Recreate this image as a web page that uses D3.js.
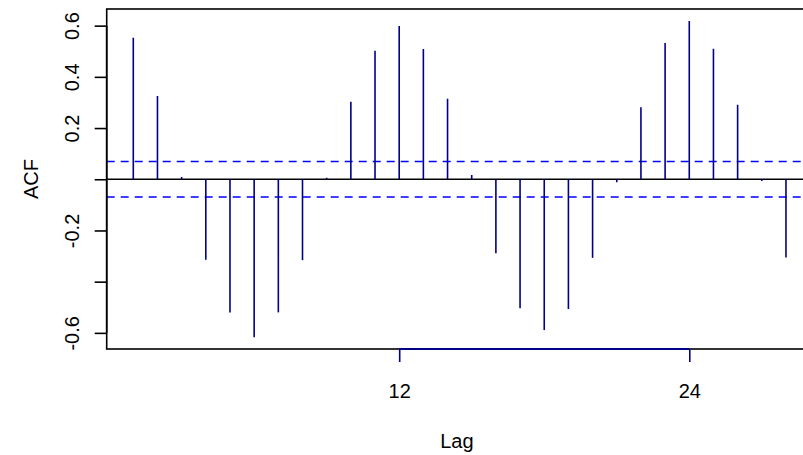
<!DOCTYPE html>
<html>
<head>
<meta charset="utf-8">
<script src="https://cdn.jsdelivr.net/npm/d3@7"></script>
<style>
  body { margin: 0; background: #fff; }
  svg { display: block; font-family: "Liberation Sans", Arial, Helvetica, sans-serif; }
</style>
</head>
<body>
<div id="chart"></div>
<script>
// ACF values, lags 1..28
const lags = d3.range(1, 29);
const acfValues = [
    0.553, 0.325, 0.009, -0.314, -0.520, -0.617, -0.520, -0.316, 0.006, 0.303,
    0.502, 0.599, 0.509, 0.314, 0.017, -0.289, -0.504, -0.589, -0.507, -0.307,
    -0.012, 0.281, 0.532, 0.618, 0.510, 0.291, -0.007, -0.306
];
const confLimit = 0.069;
const xTicks = [12, 24];
const yTicks = [-0.6, -0.4, -0.2, 0, 0.2, 0.4, 0.6];
const yTickLabels = { "-0.6": "-0.6", "-0.2": "-0.2", "0.2": "0.2", "0.4": "0.4", "0.6": "0.6" };

const width = 803, height = 455;
const plot = { left: 106.7, right: 807, top: 9, bottom: 349 };

const svg = d3.select('#chart').append('svg')
    .attr('width', width)
    .attr('height', height);

const x = d3.scaleLinear().domain([-0.1, 28.87]).range([plot.left, plot.right]);
const y = d3.scaleLinear().domain([-0.663, 0.665]).range([plot.bottom, plot.top]);

// clip for lines drawn across the plot region
svg.append('clipPath').attr('id', 'plotClip')
    .append('rect')
    .attr('x', plot.left).attr('y', plot.top)
    .attr('width', plot.right - plot.left).attr('height', plot.bottom - plot.top);

const inner = svg.append('g').attr('clip-path', 'url(#plotClip)');

// zero line
inner.append('line')
    .attr('x1', plot.left).attr('x2', plot.right)
    .attr('y1', y(0)).attr('y2', y(0))
    .attr('stroke', '#000').attr('stroke-width', 1.3);

// confidence bounds
inner.selectAll('line.ci')
    .data([confLimit, -confLimit])
    .enter().append('line')
    .attr('class', 'ci')
    .attr('x1', plot.left).attr('x2', plot.right)
    .attr('y1', d => y(d)).attr('y2', d => y(d))
    .attr('stroke', '#0000ff')
    .attr('stroke-width', 1.5)
    .attr('stroke-dasharray', '8,6');

// spikes
inner.selectAll('line.spike')
    .data(lags)
    .enter().append('line')
    .attr('class', 'spike')
    .attr('x1', d => x(d)).attr('x2', d => x(d))
    .attr('y1', y(0))
    .attr('y2', (d, i) => y(acfValues[i]))
    .attr('stroke', '#00008b')
    .attr('stroke-width', 1.6);

// box
svg.append('rect')
    .attr('x', plot.left).attr('y', plot.top)
    .attr('width', plot.right - plot.left).attr('height', plot.bottom - plot.top)
    .attr('fill', 'none')
    .attr('stroke', '#000')
    .attr('stroke-width', 1.6);

// y axis
const yAxis = d3.axisLeft(y)
    .tickValues(yTicks)
    .tickSize(12)
    .tickFormat(d => yTickLabels[String(d)] || '');
const yg = svg.append('g')
    .attr('transform', `translate(${plot.left},0)`)
    .call(yAxis);
yg.select('.domain')
    .attr('d', `M0,${y(-0.6)}V${y(0.6)}`)
    .attr('stroke-width', 1.6);
yg.selectAll('.tick line').attr('stroke-width', 1.6);
yg.selectAll('.tick text')
    .attr('x', null).attr('dy', null)
    .attr('transform', 'translate(-28,0) rotate(-90)')
    .attr('text-anchor', 'middle')
    .attr('font-size', 20)
    .attr('fill', '#000');

// x axis
const xAxis = d3.axisBottom(x)
    .tickValues(xTicks)
    .tickSize(13)
    .tickFormat(d3.format('d'));
const xg = svg.append('g')
    .attr('transform', `translate(0,${plot.bottom})`)
    .call(xAxis);
xg.select('.domain')
    .attr('d', `M${x(12)},0H${x(24)}`)
    .attr('stroke', '#00008b')
    .attr('stroke-width', 1.8);
xg.selectAll('.tick line').attr('stroke', '#00008b').attr('stroke-width', 1.6);
xg.selectAll('.tick text')
    .attr('y', 49).attr('dy', null)
    .attr('font-size', 20)
    .attr('fill', '#000');

// axis titles
svg.append('text')
    .attr('x', (plot.left + plot.right) / 2)
    .attr('y', 447.5)
    .attr('text-anchor', 'middle')
    .attr('font-size', 20)
    .text('Lag');

svg.append('text')
    .attr('transform', `translate(37.5,${(plot.top + plot.bottom) / 2}) rotate(-90)`)
    .attr('text-anchor', 'middle')
    .attr('font-size', 20)
    .text('ACF');
</script>
</body>
</html>
